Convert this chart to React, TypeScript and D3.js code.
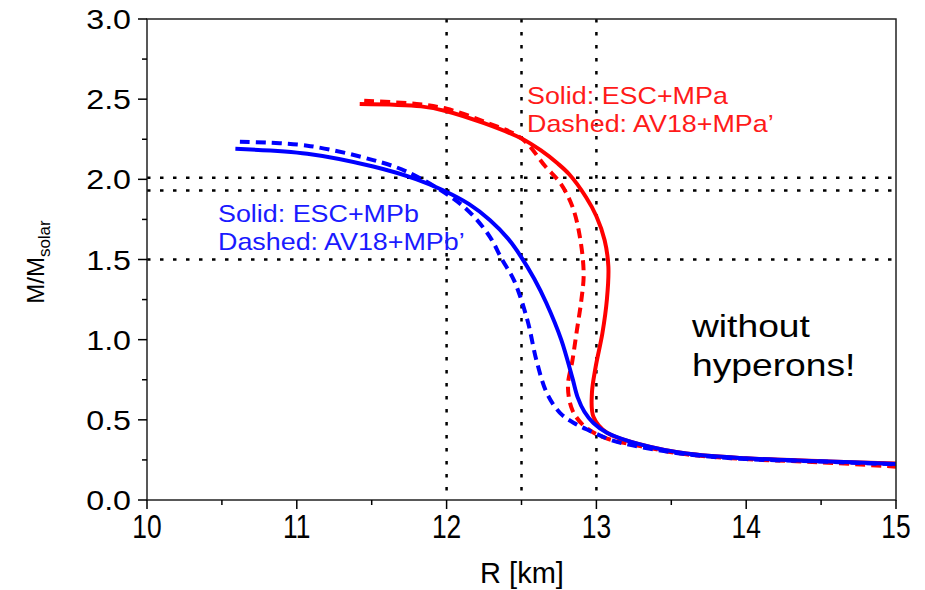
import * as d3 from "d3";
import type { ReactNode } from "react";

// mass-radius curves, [R km, M/Msolar], ordered from maximum mass down
const escMPa: [number, number][] = [
  [11.42, 2.47], [11.83, 2.455], [12.0, 2.425], [12.25, 2.35], [12.5, 2.255], [12.63, 2.18],
  [12.74, 2.1], [12.82, 2.03], [12.93, 1.89], [13.0, 1.77], [13.055, 1.62], [13.08, 1.455],
  [13.07, 1.25], [13.04, 1.04], [12.995, 0.83], [12.97, 0.665], [12.98, 0.52], [13.07, 0.42],
  [13.3, 0.345], [13.6, 0.29], [14.0, 0.26], [14.5, 0.242], [15.0, 0.228],
];
const av18MPa: [number, number][] = [
  [11.45, 2.49], [11.8, 2.47], [12.0, 2.44], [12.25, 2.36], [12.5, 2.255], [12.66, 2.08],
  [12.76, 1.975], [12.84, 1.83], [12.89, 1.64], [12.915, 1.41], [12.9, 1.25], [12.87, 1.06],
  [12.84, 0.87], [12.81, 0.71], [12.84, 0.56], [12.92, 0.46], [13.05, 0.39], [13.3, 0.335],
  [13.6, 0.285], [14.0, 0.255], [14.5, 0.235], [15.0, 0.208],
];
const escMPb: [number, number][] = [
  [10.59, 2.19], [11.07, 2.16], [11.51, 2.08], [11.8, 2.0], [11.98, 1.93], [12.15, 1.845],
  [12.29, 1.745], [12.41, 1.63], [12.495, 1.52], [12.585, 1.38], [12.665, 1.23], [12.765, 1.0],
  [12.84, 0.76], [12.875, 0.64], [12.92, 0.55], [12.98, 0.48], [13.07, 0.42], [13.3, 0.345],
  [13.6, 0.29], [14.0, 0.26], [14.5, 0.242], [15.0, 0.225],
];
const av18MPb: [number, number][] = [
  [10.62, 2.235], [11.07, 2.21], [11.51, 2.12], [11.73, 2.05], [12.03, 1.89], [12.17, 1.78],
  [12.29, 1.64], [12.37, 1.5], [12.45, 1.37], [12.54, 1.12], [12.6, 0.87], [12.67, 0.665],
  [12.76, 0.54], [12.85, 0.48], [12.96, 0.43], [13.11, 0.37], [13.3, 0.33], [13.6, 0.285],
  [14.0, 0.255], [14.5, 0.24], [15.0, 0.222],
];

const refRadii = [12, 12.5, 13];
const refMasses = [2.01, 1.93, 1.5];
const xTicks = [10, 11, 12, 13, 14, 15];
const yTicks = [0, 0.5, 1, 1.5, 2, 2.5, 3];

const W = 925;
const H = 590;
const left = 147, right = 896, top = 19, bottom = 500;
const sans = "'Liberation Sans', Arial, Helvetica, sans-serif";

// text squeezed/stretched horizontally, like the scanned original
function T(props: { x: number; y: number; sx?: number; size: number; anchor?: string; fill?: string; children: ReactNode }) {
  const { x, y, sx = 1, size, anchor = "start", fill = "#000", children } = props;
  return (
    <text transform={`translate(${x},${y}) scale(${sx},1)`} fontFamily={sans} fontSize={size} textAnchor={anchor} fill={fill}>
      {children}
    </text>
  );
}

export default function App() {
  const x = d3.scaleLinear().domain([10, 15]).range([left, right]);
  const y = d3.scaleLinear().domain([0, 3]).range([bottom, top]);
  const line = d3.line<[number, number]>()
    .x(d => x(d[0]))
    .y(d => y(d[1]))
    .curve(d3.curveCatmullRom.alpha(0.5));

  const xMinor = d3.range(10, 15.01, 0.5);
  const yMinor = d3.range(0, 3.01, 0.25);

  return (
    <svg width={W} height={H} style={{ position: "absolute", left: 0, top: 0, background: "#fff" }}>
      {/* reference lines */}
      <g stroke="#000" strokeWidth={2.5} strokeDasharray="3.5 9.5">
        {refRadii.map(r => (
          <line key={"v" + r} x1={x(r)} x2={x(r)} y1={y(3)} y2={y(0)} />
        ))}
        {refMasses.map(m => (
          <line key={"h" + m} x1={x(10)} x2={x(15)} y1={y(m)} y2={y(m)} />
        ))}
      </g>

      {/* curves */}
      <g fill="none" strokeWidth={4}>
        <path d={line(escMPa) ?? ""} stroke="#ff0000" />
        <path d={line(av18MPa) ?? ""} stroke="#ff0000" strokeDasharray="10 6" />
        <path d={line(escMPb) ?? ""} stroke="#0000ff" />
        <path d={line(av18MPb) ?? ""} stroke="#0000ff" strokeDasharray="10 6" />
      </g>

      {/* frame */}
      <rect x={left} y={top} width={right - left} height={bottom - top} fill="none" stroke="#222" strokeWidth={1.5} />

      {/* ticks */}
      <g stroke="#000" strokeWidth={1.5}>
        {xMinor.map(v => (
          <line key={"xt" + v} x1={x(v)} x2={x(v)} y1={bottom} y2={bottom + (Number.isInteger(v) ? 9 : 5)} />
        ))}
        {yMinor.map(v => (
          <line key={"yt" + v} x1={left} x2={left - (Math.abs(v * 2 - Math.round(v * 2)) < 1e-6 ? 9 : 5)} y1={y(v)} y2={y(v)} />
        ))}
      </g>

      {/* tick labels */}
      {xTicks.map(v => (
        <T key={"xl" + v} x={x(v)} y={538} size={33} sx={0.8} anchor="middle">{v}</T>
      ))}
      {yTicks.map(v => (
        <T key={"yl" + v} x={131} y={y(v) + 10} size={28} sx={1.15} anchor="end">{v.toFixed(1)}</T>
      ))}

      {/* axis titles */}
      <T x={522} y={583} size={29} sx={1.0} anchor="middle">R [km]</T>
      <text transform="translate(44,262) rotate(-90)" fontFamily={sans} fontSize={24} textAnchor="middle">
        M/M<tspan fontSize={17} dy={6}>solar</tspan>
      </text>

      {/* annotations */}
      <T x={527} y={104} size={24} sx={1.12} fill="#ff1a1a">Solid: ESC+MPa</T>
      <T x={527} y={132} size={24} sx={1.12} fill="#ff1a1a">Dashed: AV18+MPa’</T>
      <T x={218} y={222} size={24} sx={1.12} fill="#1a1aff">Solid: ESC+MPb</T>
      <T x={218} y={250} size={24} sx={1.12} fill="#1a1aff">Dashed: AV18+MPb’</T>
      <T x={692} y={337} size={31} sx={1.2}>without</T>
      <T x={692} y={376} size={31} sx={1.2}>hyperons!</T>
    </svg>
  );
}
